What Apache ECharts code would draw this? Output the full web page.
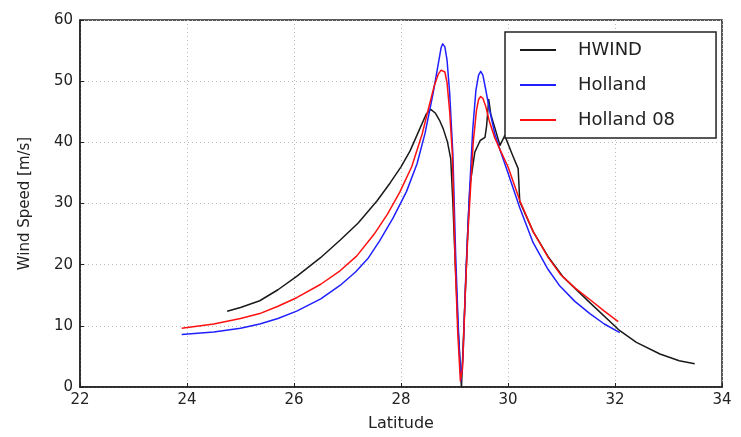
<!DOCTYPE html>
<html><head><meta charset="utf-8">
<script src="https://cdn.jsdelivr.net/npm/echarts@6/dist/echarts.min.js"></script>
<style>html,body{margin:0;padding:0;background:#fff}#c{width:741px;height:437px}</style>
</head><body><div id="c"></div>
<script>
const seriesNames = ['HWIND', 'Holland', 'Holland 08'];
const hwind = [[24.75,12.4],[25.0,13.0],[25.36,14.1],[25.7,15.9],[26.05,18.1],[26.49,21.1],[26.86,24.0],[27.2,26.8],[27.55,30.4],[27.8,33.4],[28.0,36.0],[28.17,38.6],[28.35,42.2],[28.47,44.6],[28.555,45.4],[28.64,44.8],[28.72,43.6],[28.79,42.2],[28.87,40.0],[28.93,37.3],[28.97,30.0],[29.01,21.0],[29.07,9.0],[29.13,0.0],[29.2,15.0],[29.25,26.0],[29.29,33.0],[29.38,38.4],[29.48,40.3],[29.57,40.8],[29.6,42.7],[29.64,47.0],[29.68,44.5],[29.76,42.2],[29.85,39.5],[29.94,41.1],[29.97,40.8],[30.08,38.0],[30.19,35.7],[30.22,30.3],[30.47,25.4],[30.75,21.3],[31.03,18.0],[31.53,13.8],[32.09,9.2],[32.4,7.3],[32.84,5.4],[33.2,4.3],[33.49,3.8]];
const holland = [[23.9,8.6],[24.5,9.0],[25.0,9.6],[25.36,10.3],[25.7,11.2],[26.05,12.4],[26.5,14.4],[26.86,16.6],[27.15,18.8],[27.39,21.1],[27.6,23.9],[27.85,27.6],[28.1,31.9],[28.3,36.5],[28.45,41.5],[28.6,48.0],[28.7,53.0],[28.75,55.5],[28.78,56.1],[28.82,55.6],[28.86,53.5],[28.91,48.0],[28.97,38.0],[29.02,22.0],[29.07,10.0],[29.12,1.0],[29.16,5.0],[29.21,18.0],[29.27,30.0],[29.34,42.0],[29.4,48.5],[29.45,51.0],[29.49,51.6],[29.53,51.0],[29.58,48.8],[29.65,45.5],[29.75,41.5],[29.85,38.8],[30.0,35.0],[30.22,29.3],[30.47,23.6],[30.75,19.2],[30.97,16.5],[31.25,14.0],[31.53,12.0],[31.8,10.3],[32.09,8.9]];
const holland08 = [[23.9,9.6],[24.5,10.3],[25.0,11.2],[25.36,12.0],[25.7,13.2],[26.05,14.6],[26.5,16.8],[26.86,19.0],[27.17,21.4],[27.5,25.0],[27.75,28.3],[27.98,31.9],[28.2,36.0],[28.4,41.5],[28.51,45.4],[28.62,49.2],[28.7,51.2],[28.75,51.8],[28.78,51.9],[28.82,51.5],[28.86,49.8],[28.91,45.0],[28.96,38.0],[29.01,21.1],[29.06,9.0],[29.11,1.0],[29.15,3.0],[29.2,15.0],[29.25,25.0],[29.29,31.0],[29.35,40.0],[29.41,45.2],[29.45,47.0],[29.49,47.5],[29.53,47.2],[29.58,46.0],[29.65,43.5],[29.75,40.8],[29.85,38.8],[30.0,36.0],[30.22,30.5],[30.47,25.4],[30.75,21.2],[30.99,18.3],[31.25,16.2],[31.53,14.3],[31.8,12.4],[32.06,10.7]];
const xTicks = [22, 24, 26, 28, 30, 32, 34];
const yTicks = [0, 10, 20, 30, 40, 50, 60];

const font = 'DejaVu Sans';
const chart = echarts.init(document.getElementById('c'), null, {renderer: 'canvas'});
const mk = (name, data, color) => ({
  name, type: 'line', data, symbol: 'none', smooth: false,
  lineStyle: {color, width: 1.5, join: 'round'}, itemStyle: {color}, z: 3
});
chart.setOption({
  animation: false,
  backgroundColor: '#fff',
  grid: {left: 80, right: 19, top: 20, bottom: 47, show: true, borderColor: '#222', borderWidth: 1.5, backgroundColor: 'transparent'},
  legend: {
    orient: 'vertical', left: 505, top: 32,
    data: seriesNames,
    icon: 'rect',
    itemWidth: 36, itemHeight: 2, itemGap: 17,
    padding: [9, 41, 9, 15],
    borderColor: '#222', borderWidth: 1.5, backgroundColor: '#fff',
    textStyle: {fontFamily: font, fontSize: 18, color: '#222', padding: [0, 0, 0, 17]}
  },
  xAxis: {
    type: 'value', min: xTicks[0], max: xTicks[xTicks.length - 1], interval: 2,
    name: 'Latitude', nameLocation: 'middle', nameGap: 29,
    nameTextStyle: {fontFamily: font, fontSize: 16, color: '#222'},
    axisLine: {show: true, lineStyle: {color: '#222', width: 1.5}},
    axisTick: {show: true, inside: true, length: 4, lineStyle: {color: '#222'}},
    axisLabel: {fontFamily: font, fontSize: 15, color: '#222', margin: 6},
    splitLine: {show: true, lineStyle: {color: '#bbb', type: [1, 3], width: 1}}
  },
  yAxis: {
    type: 'value', min: yTicks[0], max: yTicks[yTicks.length - 1], interval: 10,
    name: 'Wind Speed [m/s]', nameLocation: 'middle', nameGap: 47,
    nameTextStyle: {fontFamily: font, fontSize: 15, color: '#222'},
    axisLine: {show: true, lineStyle: {color: '#222', width: 1.5}},
    axisTick: {show: true, inside: true, length: 4, lineStyle: {color: '#222'}},
    axisLabel: {fontFamily: font, fontSize: 15, color: '#222', margin: 7},
    splitLine: {show: true, lineStyle: {color: '#bbb', type: [1, 3], width: 1}}
  },
  series: [
    mk(seriesNames[0], hwind, '#1a1a1a'),
    mk(seriesNames[1], holland, '#2020ff'),
    mk(seriesNames[2], holland08, '#ff1010')
  ]
});
</script></body></html>
